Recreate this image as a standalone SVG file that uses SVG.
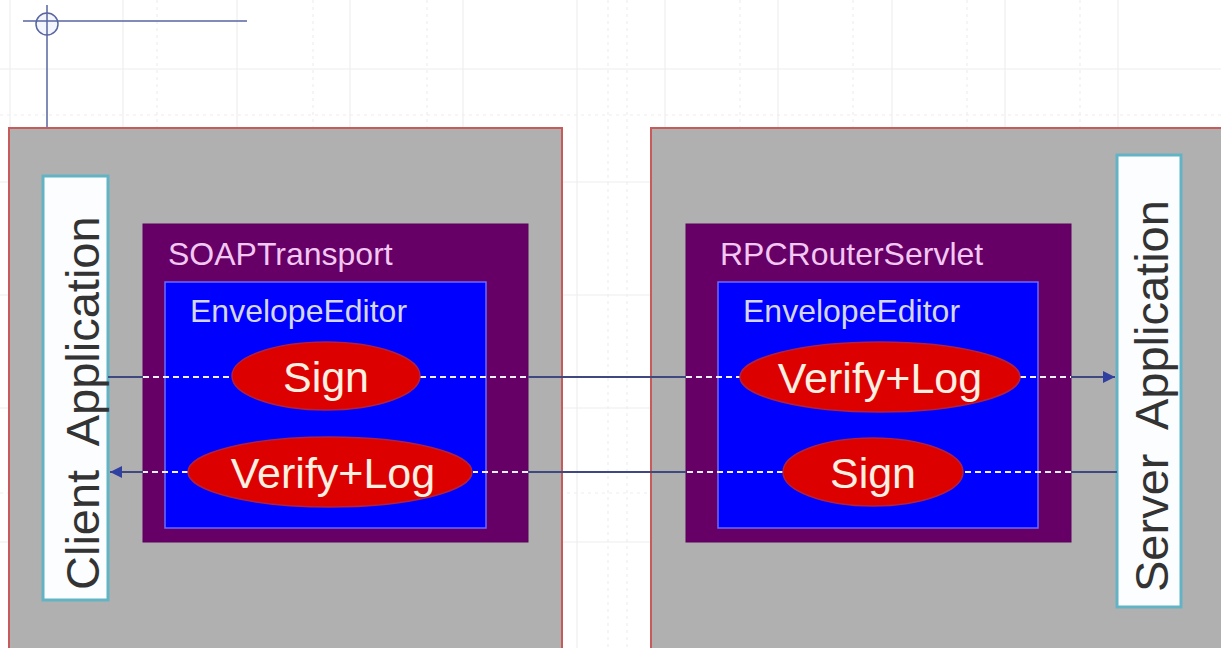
<svg xmlns="http://www.w3.org/2000/svg" width="1221" height="648" viewBox="0 0 1221 648">
<style>
.grid{stroke:#eeeeee;stroke-width:1.2;fill:none}
.gridd{stroke:#eeeeee;stroke-width:1.2;stroke-dasharray:3 4;fill:none}
.outer{fill:#b0b0b0;stroke:#c85a5a;stroke-width:2}
.app{fill:#fbfdff;stroke:#62b4c4;stroke-width:3}
.apptxt{font-family:"Liberation Sans",Arial,sans-serif;font-size:47px;fill:#333333}
.comp{fill:#660066;stroke:#5a005a;stroke-width:1}
.ed{fill:#0000ff;stroke:#6a6aff;stroke-width:1.5}
.comptxt{font-family:"Liberation Sans",Arial,sans-serif;font-size:32px;fill:#f2c8f2}
.edtxt{font-family:"Liberation Sans",Arial,sans-serif;font-size:32px;fill:#d4d6ee}
.ell{fill:#dd0000;stroke:#b02040;stroke-width:1.5}
.elltxt{font-family:"Liberation Sans",Arial,sans-serif;font-size:43px;fill:#fff0e2;text-anchor:middle}
.solid{stroke:#404880;stroke-width:2;fill:none}
.dash{stroke:#f0f0ff;stroke-width:2;stroke-dasharray:6 4;fill:none}
</style>
<defs>
<marker id="arrb" viewBox="0 0 10 10" refX="10" refY="5" markerWidth="12" markerHeight="12" markerUnits="userSpaceOnUse" orient="auto">
<path d="M0,0 L10,5 L0,10 z" fill="#3040a0"/>
</marker>
</defs>
<rect width="1221" height="648" fill="#ffffff"/>
<g id="grid">
<path class="grid" d="M10,0V648 M123,0V648 M237,0V648 M350,0V648 M463,0V648 M577,0V648 M665,0V648 M778,0V648 M892,0V648 M1005,0V648 M1118,0V648"/>
<path class="gridd" d="M157,0V648 M313,0V648 M427,0V648 M608,0V648 M627,0V648 M740,0V648 M853,0V648 M967,0V648 M1080,0V648"/>
<path class="grid" d="M0,69H1221 M0,182H1221 M0,295H1221 M0,408H1221 M0,542H1221"/>
<path class="gridd" d="M0,115H1221 M0,493H1221"/>
</g>
<g id="crosshair">
<circle cx="47" cy="24" r="11" fill="#f4f6ff" stroke="#5866a0" stroke-width="1.5"/>
<path d="M23,21H247 M47,5V128" stroke="#5866a0" stroke-width="1.5" fill="none"/>
</g>
<g id="client-side">
<rect class="outer" x="9" y="128" width="553" height="530"/>
</g>
<g id="server-side">
<rect class="outer" x="651" y="128" width="580" height="530"/>
</g>
<g id="client-app">
<rect class="app" x="43" y="176" width="65" height="424"/>
<text class="apptxt" transform="translate(99,590) rotate(-90)" xml:space="preserve">Client  Application</text>
</g>
<g id="server-app">
<rect class="app" x="1117" y="155" width="64" height="452"/>
<text class="apptxt" transform="translate(1168,592) rotate(-90)" xml:space="preserve">Server  Application</text>
</g>
<g id="soaptransport">
<rect class="comp" x="143" y="224" width="385" height="318"/>
<text class="comptxt" x="168" y="265">SOAPTransport</text>
</g>
<g id="client-editor">
<rect class="ed" x="165" y="282" width="321" height="246"/>
<text class="edtxt" x="190" y="322">EnvelopeEditor</text>
</g>
<g id="rpcrouterservlet">
<rect class="comp" x="686" y="224" width="385" height="318"/>
<text class="comptxt" x="720" y="265">RPCRouterServlet</text>
</g>
<g id="server-editor">
<rect class="ed" x="718" y="282" width="320" height="246"/>
<text class="edtxt" x="743" y="322">EnvelopeEditor</text>
</g>
<g id="connectors">
<path class="solid" d="M108,377H143"/>
<path class="dash" d="M143,377H232 M420,377H528"/>
<path class="solid" d="M528,377H686"/>
<path class="dash" d="M686,377H740 M1020,377H1071"/>
<path class="solid" d="M1071,377H1115" marker-end="url(#arrb)"/>
<path class="solid" d="M1117,472H1071"/>
<path class="dash" d="M1071,472H963 M783,472H686"/>
<path class="solid" d="M686,472H528"/>
<path class="dash" d="M528,472H473 M188,472H143"/>
<path class="solid" d="M143,472H110" marker-end="url(#arrb)"/>
</g>
<g id="client-sign">
<ellipse class="ell" cx="326" cy="376" rx="94" ry="34"/>
<text class="elltxt" x="326" y="392">Sign</text>
</g>
<g id="client-verify">
<ellipse class="ell" cx="330" cy="472" rx="142" ry="35"/>
<text class="elltxt" x="333" y="488">Verify+Log</text>
</g>
<g id="server-verify">
<ellipse class="ell" cx="880" cy="377" rx="140" ry="35"/>
<text class="elltxt" x="880" y="393">Verify+Log</text>
</g>
<g id="server-sign">
<ellipse class="ell" cx="873" cy="472" rx="90" ry="34"/>
<text class="elltxt" x="873" y="488">Sign</text>
</g>
</svg>
